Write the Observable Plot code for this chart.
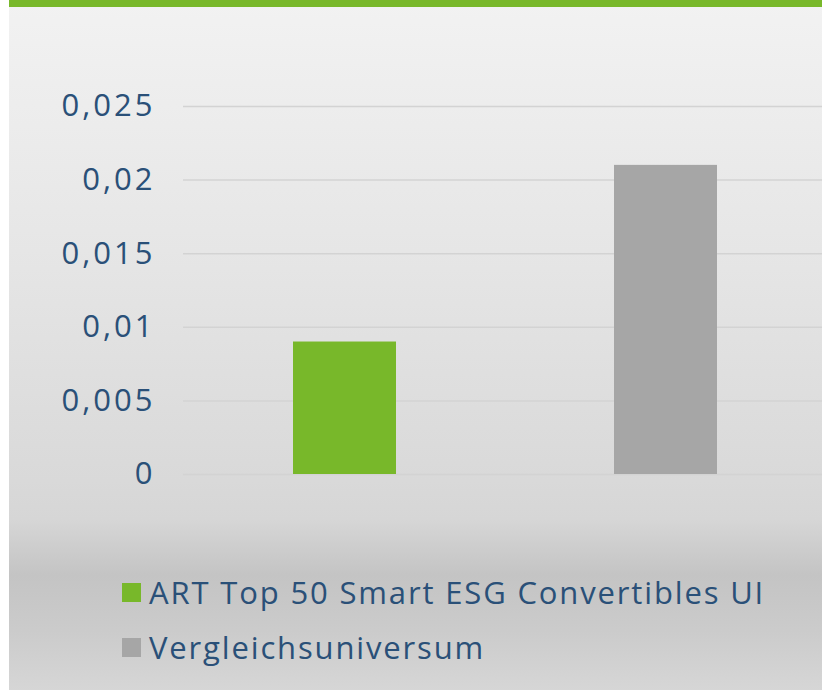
<!DOCTYPE html>
<html>
<head>
<meta charset="utf-8">
<script src="https://cdn.jsdelivr.net/npm/d3@7"></script>
<script src="https://cdn.jsdelivr.net/npm/@observablehq/plot@0.6"></script>
<style>
  html, body { margin: 0; padding: 0; background: #ffffff; overflow: hidden; }
  #frame {
    position: absolute; left: 9px; top: 0; width: 813px; height: 690px;
    background: linear-gradient(to bottom,
      #f2f2f2 0px, #e6e6e6 250px, #d9d9d9 480px, #d6d6d6 520px,
      #c4c4c4 575px, #cbcbcb 630px, #d6d6d6 690px);
    font-family: "Open Sans", sans-serif;
    overflow: hidden;
  }
  #topbar { height: 7px; background: #78b82a; }
  #legend { padding-left: 113px; padding-top: 81px; }
  .row { display: flex; align-items: center; height: 55px; }
  .sw { width: 19px; height: 19px; margin-right: 8px; flex: none; }
  .lab { font-size: 31px; color: #2a5078; letter-spacing: 1.85px; line-height: 1; }
  #chart svg text { letter-spacing: 3px; }
</style>
</head>
<body>
<div id="frame">
  <div id="topbar"></div>
  <div id="chart"></div>
  <div id="legend"></div>
</div>
<script>
const categories = ["ART Top 50 Smart ESG Convertibles UI", "Vergleichsuniversum"];
const values = [0.009, 0.021];
const seriesColors = ["#78b82a", "#a6a6a6"];
const yTicks = [0, 0.005, 0.01, 0.015, 0.02, 0.025];
const tickLabels = ["0", "0,005", "0,01", "0,015", "0,02", "0,025"];

const data = categories.map((c, i) => ({category: c, value: values[i]}));
const fmt = d => tickLabels[yTicks.indexOf(d)];

const chart = Plot.plot({
  width: 813,
  height: 477,
  marginTop: 99,
  marginBottom: 10,
  marginLeft: 174,
  marginRight: -4,
  style: {background: "transparent", fontFamily: "Open Sans, sans-serif", fontSize: "31px", color: "#2a5078", overflow: "visible"},
  x: {domain: categories, paddingInner: 0.68, paddingOuter: 0.34, axis: null},
  y: {domain: [0, 0.025], ticks: yTicks, tickFormat: fmt, tickSize: 0, label: null, axis: null},
  color: {domain: categories, range: seriesColors},
  marks: [
    Plot.gridY(yTicks, {stroke: "#d3d3d3", strokeOpacity: 1, strokeWidth: 1.5}),
    Plot.barY(data, {x: "category", y: "value", fill: "category"}),
    Plot.axisY({ticks: yTicks, tickFormat: fmt, tickSize: 0, tickPadding: 28, fill: "#2a5078", label: null, fontSize: 31})
  ]
});
document.getElementById("chart").appendChild(chart);

const legend = document.getElementById("legend");
categories.forEach((c, i) => {
  const row = document.createElement("div");
  row.className = "row";
  const sw = document.createElement("span");
  sw.className = "sw";
  sw.style.background = seriesColors[i];
  const lab = document.createElement("span");
  lab.className = "lab";
  lab.textContent = c;
  row.appendChild(sw);
  row.appendChild(lab);
  legend.appendChild(row);
});
</script>
</body>
</html>
